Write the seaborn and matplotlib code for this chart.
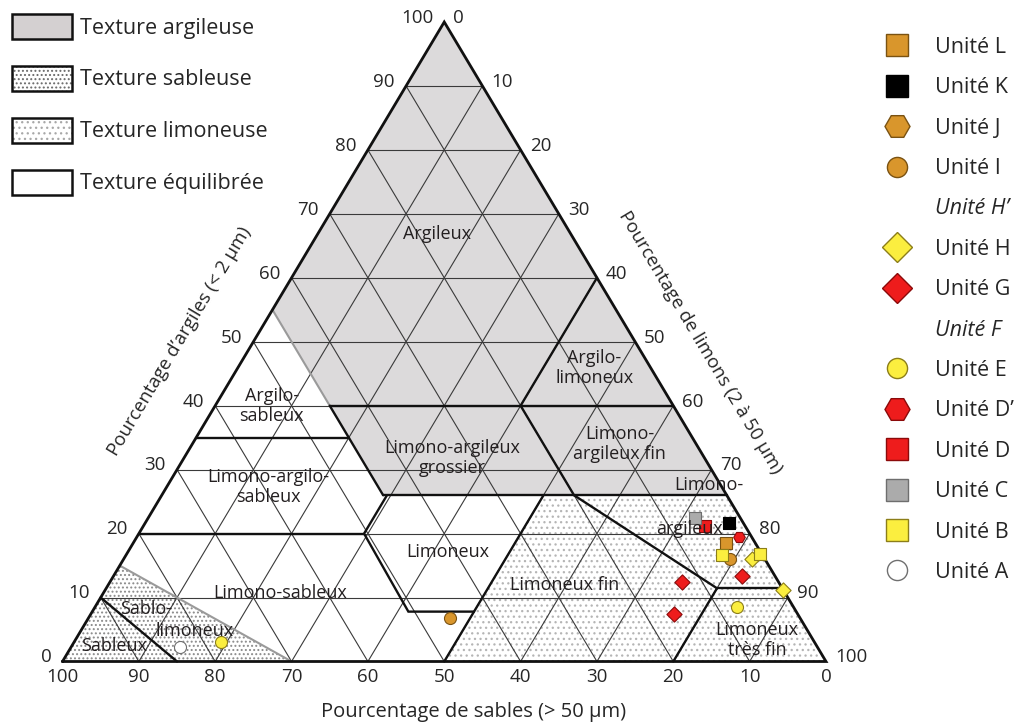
import matplotlib
matplotlib.use('Agg')
import matplotlib.pyplot as plt
from matplotlib.patches import Polygon, Patch
from matplotlib.lines import Line2D
from matplotlib.legend_handler import HandlerTuple
import numpy as np
import pandas as pd
import seaborn as sns

sns.set_style('white')
plt.rcParams['font.family'] = ['Open Sans', 'DejaVu Sans']
plt.rcParams['hatch.linewidth'] = 0.9

# Samples: clay (< 2 um) and silt (2-50 um) in %
point_unit = ['Unité I', 'Unité A', 'Unité E', 'Unité C', 'Unité D', 'Unité K',
              'Unité D’', 'Unité L', 'Unité B', 'Unité I', 'Unité H', 'Unité B',
              'Unité G', 'Unité G', 'Unité H', 'Unité E', 'Unité G']
point_clay = [6.8, 2.3, 3.0, 22.4, 21.2, 21.6, 19.4, 18.5, 16.7, 16.0, 16.1, 16.8,
              13.3, 12.4, 11.2, 8.6, 7.5]
point_silt = [47.4, 14.2, 19.3, 71.6, 73.6, 76.5, 78.9, 77.7, 78.0, 79.4, 82.2, 83.0,
              82.4, 74.9, 88.8, 84.1, 76.3]

# legend order, top to bottom (None = title line without symbol)
legend_units = ['Unité L', 'Unité K', 'Unité J', 'Unité I', 'Unité H’', 'Unité H',
                'Unité G', 'Unité F', 'Unité E', 'Unité D’', 'Unité D', 'Unité C',
                'Unité B', 'Unité A']
legend_marker = ['s', 's', 'H', 'o', None, 'D', 'D', None, 'o', 'H', 's', 's', 's', 'o']
legend_face = ['#D9962C', '#000000', '#D9962C', '#D9962C', None, '#FBEE3F', '#EE1C1C',
               None, '#FBEE3F', '#EE1C1C', '#EE1C1C', '#ABABAB', '#FBEE3F', '#FFFFFF']
legend_edge = ['#7A5212', '#000000', '#7A5212', '#7A5212', None, '#8C7E19', '#8B0A0A',
               None, '#8C7E19', '#8B0A0A', '#8B0A0A', '#6E6E6E', '#8C7E19', '#707070']

ticks = [0, 10, 20, 30, 40, 50, 60, 70, 80, 90, 100]

# texture classes: label, clay, silt of label centre
class_labels = ['Argileux', 'Argilo-\nlimoneux', 'Argilo-\nsableux',
                'Limono-argileux\ngrossier', 'Limono-\nargileux fin',
                'Limono-argilo-\nsableux', 'Limoneux', 'Limono-', 'argileux',
                'Limoneux fin', 'Limono-sableux', 'Limoneux\ntrès fin',
                'Sablo-', 'limoneux', 'Sableux']
class_clay = [66.9, 45.9, 40.0, 31.8, 34.0, 27.3, 17.2, 27.6, 20.7, 12.0, 10.7,
              3.3, 8.2, 4.7, 2.5]
class_silt = [15.6, 46.7, 7.4, 35.1, 56.0, 13.3, 41.8, 70.9, 71.8, 59.8, 23.2,
              89.3, 6.8, 15.0, 5.5]

# class boundaries (clay, silt) polylines
thick_lines = [
    [(35, 0), (35, 20)],
    [(40, 15), (26, 29)],
    [(40, 15), (40, 60)],
    [(60, 40), (40, 40)],
    [(40, 40), (26, 54)],
    [(26, 29), (26, 74)],
    [(20, 0), (20, 29.5)],
    [(26, 29.5), (20, 29.5), (7.8, 41.4), (7.8, 50)],
    [(0, 50), (26, 50)],
    [(26, 54), (11.45, 80)],
    [(11.45, 80), (11.45, 88.55)],
    [(0, 80), (11.45, 80)],
    [(10, 0), (0, 15)],
]
grey_lines = [
    [(55, 0), (40, 15)],
    [(15, 0), (0, 30)],
]
clay_zone = [(100, 0), (55, 0), (26, 29), (26, 74)]
sand_zone = [(0, 0), (15, 0), (0, 30)]
silt_zone = [(0, 50), (26, 50), (26, 74), (0, 100)]

# pixel geometry of the original figure
X0, XS, Y0, YS = 62.5, 7.635, 661.5, 6.395
W, H = 1019, 725


def tern(clay, silt):
    clay = np.asarray(clay, dtype=float)
    silt = np.asarray(silt, dtype=float)
    return silt + clay / 2.0, clay


def poly_xy(pts):
    c = [p[0] for p in pts]
    s = [p[1] for p in pts]
    x, y = tern(c, s)
    return np.column_stack([x, y])


fig = plt.figure(figsize=(W / 100, H / 100), dpi=100)
ax = fig.add_axes([0, 0, 1, 1])
ax.set_xlim(-X0 / XS, (W - X0) / XS)
ax.set_ylim((Y0 - H) / YS, Y0 / YS)
ax.axis('off')

# shaded zones
ax.add_patch(Polygon(poly_xy(clay_zone), closed=True, facecolor='#DCDADB',
                     edgecolor='none', zorder=0))
ax.add_patch(Polygon(poly_xy(sand_zone), closed=True, facecolor='none',
                     edgecolor='#8A8A8A', hatch='....', linewidth=0, zorder=1))
ax.add_patch(Polygon(poly_xy(silt_zone), closed=True, facecolor='none',
                     edgecolor='#B5B5B5', hatch='...', linewidth=0, zorder=1))

# 10 % grid
for v in ticks[1:-1]:
    for seg in ([(v, 0), (v, 100 - v)], [(0, v), (100 - v, v)],
                [(0, 100 - v), (100 - v, 0)]):
        xy = poly_xy(seg)
        ax.plot(xy[:, 0], xy[:, 1], color='#3A3A3A', lw=0.8, zorder=2)

for seg in grey_lines:
    xy = poly_xy(seg)
    ax.plot(xy[:, 0], xy[:, 1], color='#9A9A9A', lw=1.5, zorder=3)
for seg in thick_lines:
    xy = poly_xy(seg)
    ax.plot(xy[:, 0], xy[:, 1], color='#111111', lw=1.7, zorder=3,
            solid_joinstyle='miter')

outline = poly_xy([(0, 0), (0, 100), (100, 0), (0, 0)])
ax.plot(outline[:, 0], outline[:, 1], color='#111111', lw=2.0, zorder=4,
        solid_joinstyle='miter')

# tick labels
for v in ticks:
    x, y = tern(v, 0)
    ax.annotate(str(v), (x, y), xytext=(-8, 3), textcoords='offset points',
                ha='right', va='center', fontsize=13.5)
    x, y = tern(100 - v, v)
    ax.annotate(str(v), (x, y), xytext=(6.5, 3), textcoords='offset points',
                ha='left', va='center', fontsize=13.5)
    x, y = tern(0, 100 - v)
    ax.annotate(str(v), (x, y), xytext=(0, -11.5), textcoords='offset points',
                ha='center', va='center', fontsize=13.5)

fig.text(180 / W, 1 - 341 / H, 'Pourcentage d’argiles (< 2 µm)', rotation=59.2,
         ha='center', va='center', rotation_mode='anchor', fontsize=13.5)
fig.text(700 / W, 1 - 342 / H, 'Pourcentage de limons (2 à 50 µm)', rotation=-59.2,
         ha='center', va='center', rotation_mode='anchor', fontsize=13.5)
fig.text(474 / W, 1 - 712 / H, 'Pourcentage de sables (> 50 µm)',
         ha='center', va='center', fontsize=14.5)

for lab, c, s in zip(class_labels, class_clay, class_silt):
    x, y = tern(c, s)
    ax.text(x, y, lab, ha='center', va='center', fontsize=13, color='#231F20',
            linespacing=1.15, zorder=6)

# samples
df = pd.DataFrame({'unit': point_unit, 'clay': point_clay, 'silt': point_silt})
df['x'], df['y'] = tern(df['clay'], df['silt'])
plot_sizes = {'s': 70, 'o': 75, 'D': 60, 'H': 70}
for name, mk, fc, ec in zip(legend_units, legend_marker, legend_face, legend_edge):
    sub = df[df['unit'] == name]
    if mk is None or sub.empty:
        continue
    sns.scatterplot(data=sub, x='x', y='y', marker=mk, color=fc, edgecolor=ec,
                    linewidth=0.8, s=plot_sizes[mk], ax=ax, zorder=5, legend=False)

# legend of textures
fs = 15.5
tex_handles = [
    Patch(facecolor='#D4D0D1', edgecolor='#111111', linewidth=1.8),
    (Patch(facecolor='white', edgecolor='#6A6A6A', hatch='....', linewidth=0),
     Patch(facecolor='none', edgecolor='#111111', linewidth=1.8)),
    (Patch(facecolor='white', edgecolor='#A8A8A8', hatch='...', linewidth=0),
     Patch(facecolor='none', edgecolor='#111111', linewidth=1.8)),
    Patch(facecolor='white', edgecolor='#111111', linewidth=1.8),
]
tex_labels = ['Texture argileuse', 'Texture sableuse', 'Texture limoneuse',
              'Texture équilibrée']
leg1 = fig.legend(tex_handles, tex_labels, loc='upper left',
                  bbox_to_anchor=(12 / W, 1 - 14 / H), frameon=False, fontsize=fs,
                  handlelength=60 / 21.5, handleheight=30 / 21.5,
                  handletextpad=0.35, labelspacing=1.26, borderpad=0,
                  borderaxespad=0, handler_map={tuple: HandlerTuple(ndivide=1, pad=0)})

legend_ms = {'s': 15.5, 'o': 14.5, 'D': 15.5, 'H': 18}
unit_handles = []
for mk, fc, ec in zip(legend_marker, legend_face, legend_edge):
    if mk is None:
        unit_handles.append(Line2D([], [], linestyle='none'))
    else:
        unit_handles.append(Line2D([], [], linestyle='none', marker=mk,
                                   markersize=legend_ms[mk], markerfacecolor=fc,
                                   markeredgecolor=ec, markeredgewidth=1.0))
leg2 = fig.legend(unit_handles, legend_units, loc='upper left',
                  bbox_to_anchor=(881 / W, 1 - 37 / H), frameon=False, fontsize=fs,
                  handlelength=1.5, handletextpad=1.0, labelspacing=0.9,
                  borderpad=0, borderaxespad=0)
for txt, mk in zip(leg2.get_texts(), legend_marker):
    if mk is None:
        txt.set_fontstyle('italic')

fig.savefig('out.png', dpi=100)
